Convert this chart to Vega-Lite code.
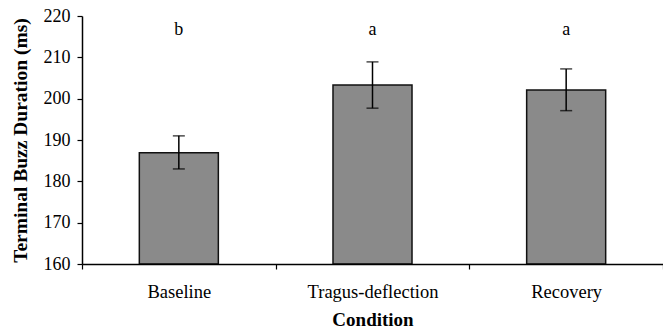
{
  "$schema": "https://vega.github.io/schema/vega-lite/v6.json",
  "width": 581,
  "height": 248,
  "autosize": {"type": "none"},
  "padding": {"left": 82, "top": 16, "right": 0, "bottom": 71},
  "background": "white",
  "config": {
    "view": {"stroke": null},
    "font": "Liberation Serif"
  },
  "data": {
    "values": [
      {"condition": "Baseline", "mean": 186.9, "lo": 183.0, "hi": 191.0, "letter": "b", "letterY": 216.6},
      {"condition": "Tragus-deflection", "mean": 203.3, "lo": 197.7, "hi": 208.9, "letter": "a", "letterY": 216.6},
      {"condition": "Recovery", "mean": 202.1, "lo": 197.1, "hi": 207.2, "letter": "a", "letterY": 216.6}
    ]
  },
  "encoding": {
    "x": {
      "field": "condition",
      "type": "nominal",
      "sort": null,
      "scale": {"paddingInner": 0, "paddingOuter": 0},
      "axis": {
        "title": "Condition",
        "titleFont": "Liberation Serif",
        "titleFontSize": 19,
        "titleFontWeight": "bold",
        "titleColor": "black",
        "titlePadding": 10,
        "labelFont": "Liberation Serif",
        "labelFontSize": 18.5,
        "labelColor": "black",
        "labelAngle": 0,
        "labelPadding": 13,
        "labelOverlap": false,
        "tickBand": "extent",
        "tickSize": 5,
        "tickColor": "black",
        "tickWidth": 1.2,
        "domainColor": "black",
        "domainWidth": 1.5,
        "grid": false,
        "zindex": 1
      }
    }
  },
  "layer": [
    {
      "mark": {"type": "bar", "width": {"band": 0.408}, "fill": "#8a8a8a", "stroke": "#111111", "strokeWidth": 1.5},
      "encoding": {
        "y": {
          "field": "mean",
          "type": "quantitative",
          "scale": {"domain": [160, 220], "nice": false, "zero": false},
          "axis": {
            "title": "Terminal Buzz Duration (ms)",
            "titleFont": "Liberation Serif",
            "titleFontSize": 19.5,
            "titleFontWeight": "bold",
            "titleColor": "black",
            "titlePadding": 13,
            "labelFont": "Liberation Serif",
            "labelFontSize": 18,
            "labelColor": "black",
            "labelPadding": 7,
            "values": [160, 170, 180, 190, 200, 210, 220],
            "tickSize": 5,
            "tickColor": "black",
            "tickWidth": 1.2,
            "domainColor": "black",
            "domainWidth": 1.5,
            "grid": false,
            "zindex": 1
          }
        },
        "y2": {"datum": 160}
      }
    },
    {
      "mark": {"type": "rule", "color": "black", "strokeWidth": 1.5},
      "encoding": {
        "y": {"field": "lo", "type": "quantitative"},
        "y2": {"field": "hi"}
      }
    },
    {
      "mark": {"type": "tick", "color": "black", "size": 12, "thickness": 1.5},
      "encoding": {
        "y": {"field": "lo", "type": "quantitative"}
      }
    },
    {
      "mark": {"type": "tick", "color": "black", "size": 12, "thickness": 1.5},
      "encoding": {
        "y": {"field": "hi", "type": "quantitative"}
      }
    },
    {
      "mark": {"type": "text", "font": "Liberation Serif", "fontSize": 18, "fill": "black", "baseline": "middle"},
      "encoding": {
        "y": {"field": "letterY", "type": "quantitative"},
        "text": {"field": "letter"}
      }
    }
  ]
}
